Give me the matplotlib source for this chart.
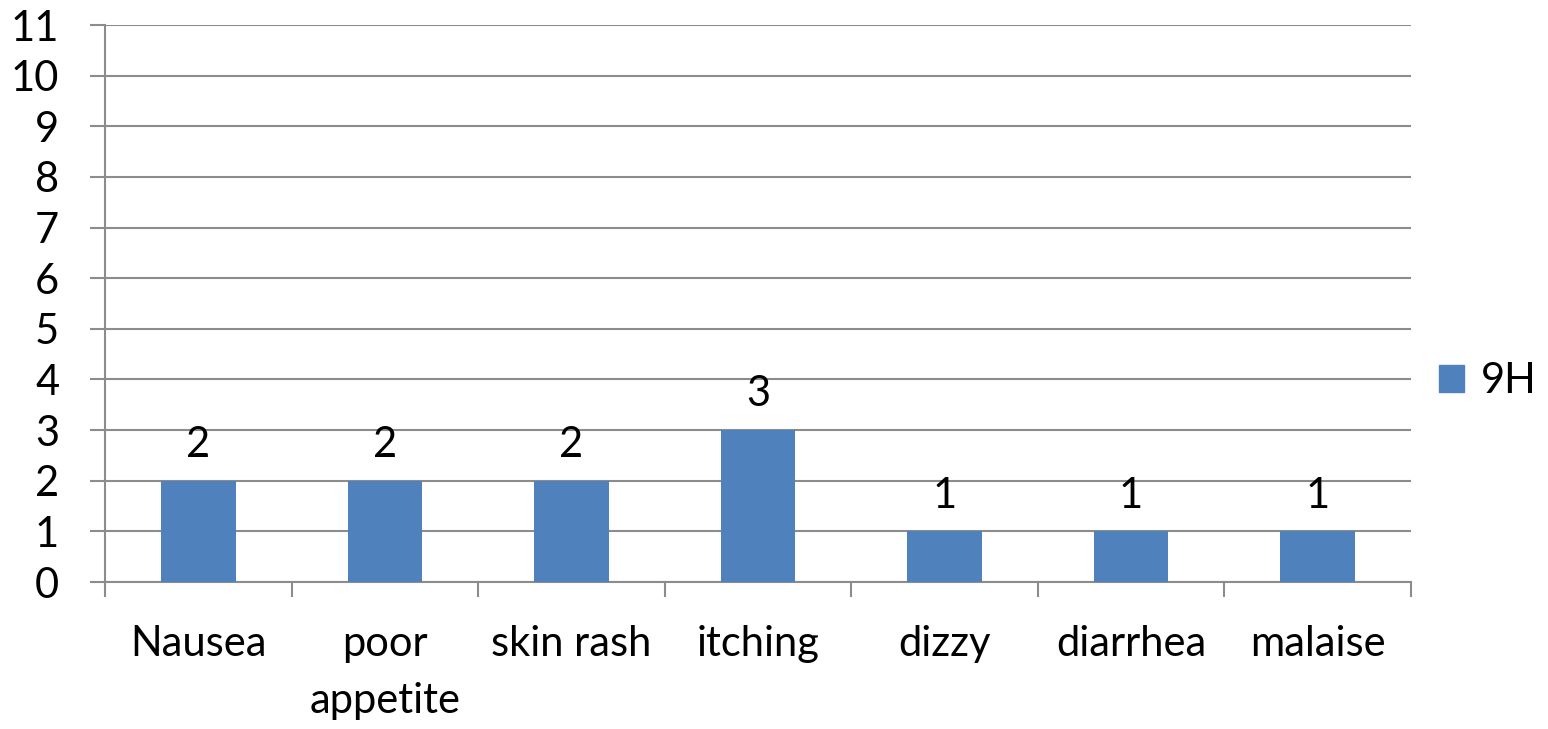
import matplotlib
matplotlib.use('Agg')
import matplotlib.pyplot as plt
from matplotlib.patches import Patch

plt.rcParams['font.family'] = ['Lato', 'DejaVu Sans']

# Symptom counts
symptoms = ['Nausea', 'poor\nappetite', 'skin rash', 'itching', 'dizzy', 'diarrhea', 'malaise']
counts = [2, 2, 2, 3, 1, 1, 1]
series_name = '9H'
y_ticks = list(range(0, 12))

bar_color = '#4F81BD'
grid_color = '#8C8C8C'

fig = plt.figure(figsize=(15.48, 7.29), dpi=100)
ax = fig.add_axes([0.0678, 0.2016, 0.8437, 0.7641])

x = list(range(len(symptoms)))
ax.bar(x, counts, width=0.4, color=bar_color, zorder=3)

# Value labels above bars
for xi, c in zip(x, counts):
    ax.annotate(str(c), (xi, c), xytext=(0, 12), textcoords='offset points',
                ha='center', va='bottom', fontsize=30, color='black')

ax.set_xlim(-0.5, len(symptoms) - 0.5)
ax.set_ylim(0, 11)
ax.set_yticks(y_ticks)
ax.set_yticklabels([str(t) for t in y_ticks], fontsize=30)

# Category boundaries as tick marks, labels at centres
ax.set_xticks([i - 0.5 for i in range(len(symptoms) + 1)])
ax.set_xticklabels([])
ax.set_xticks(x, minor=True)
ax.set_xticklabels(symptoms, minor=True, fontsize=30, linespacing=1.6, va='top')
ax.tick_params(axis='x', which='minor', length=0, pad=31)
ax.tick_params(axis='x', which='major', length=11, width=1.5, color=grid_color)
ax.tick_params(axis='y', length=11, width=1.5, color=grid_color, pad=22)

ax.yaxis.grid(True, color=grid_color, linewidth=1.5, zorder=0)
ax.set_axisbelow(True)
for s in ['top', 'right']:
    ax.spines[s].set_visible(False)
for s in ['left', 'bottom']:
    ax.spines[s].set_color(grid_color)
    ax.spines[s].set_linewidth(1.5)

handles = [Patch(color=bar_color, label=series_name)]
fig.legend(handles=handles, loc='center left', bbox_to_anchor=(0.916, 0.477),
           frameon=False, fontsize=30, handlelength=0.6, handleheight=0.6,
           handletextpad=0.4, borderpad=0)

fig.savefig('out.png', dpi=100)
